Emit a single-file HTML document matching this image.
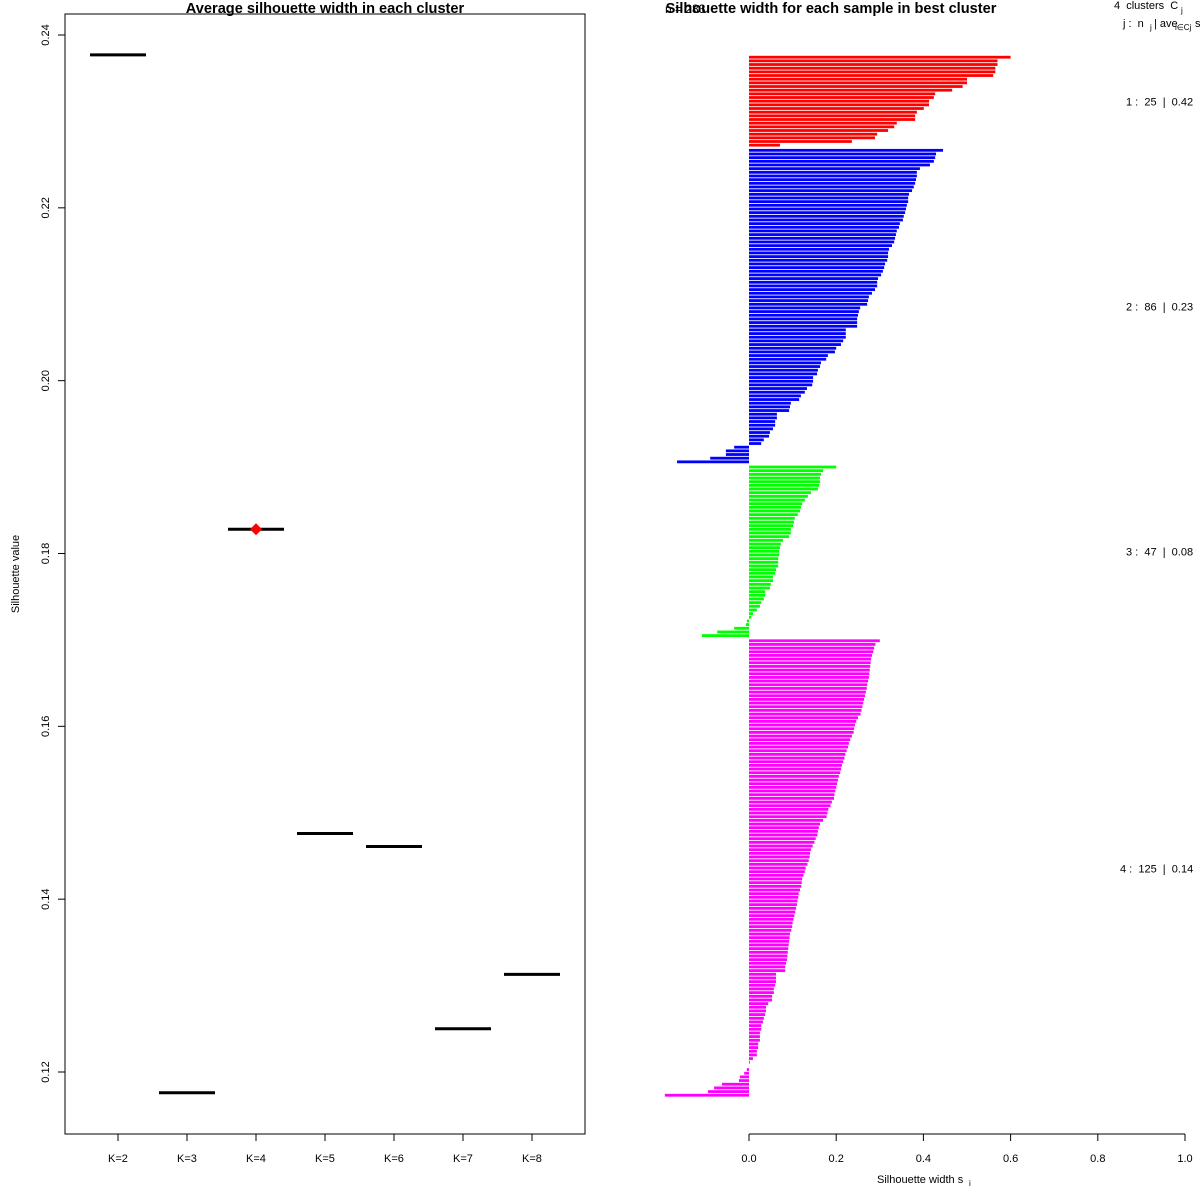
<!DOCTYPE html>
<html><head><meta charset="utf-8"><style>
html,body{margin:0;padding:0;background:#fff;}
svg{display:block;font-family:"Liberation Sans",Arial,sans-serif;}
svg text{white-space:pre;}
</style></head><body>
<svg id="chart" width="1200" height="1200" viewBox="0 0 1200 1200"></svg>
<script>
// ---- Left panel data ----
const kLabels = ["K=2","K=3","K=4","K=5","K=6","K=7","K=8"];
const avgSil = [0.2377,0.1176,0.1828,0.1476,0.1461,0.1250,0.1313];
const bestK = 2; // index of K=4
const yTicks = [0.12,0.14,0.16,0.18,0.20,0.22,0.24];
// ---- Right panel data ----
const cluster1 = [0.60,0.57,0.57,0.565,0.565,0.56,0.50,0.50,0.49,0.466,0.427,0.424,0.413,0.413,0.401,0.385,0.381,0.381,0.339,0.333,0.319,0.294,0.289,0.236,0.071];
const cluster2 = [0.445,0.429,0.427,0.424,0.415,0.392,0.385,0.385,0.383,0.381,0.378,0.374,0.367,0.365,0.365,0.362,0.360,0.358,0.355,0.353,0.346,0.344,0.339,0.337,0.335,0.333,0.328,0.321,0.319,0.319,0.317,0.312,0.310,0.307,0.303,0.296,0.294,0.294,0.289,0.282,0.275,0.273,0.271,0.255,0.252,0.250,0.248,0.248,0.248,0.222,0.222,0.222,0.216,0.211,0.200,0.197,0.181,0.177,0.165,0.163,0.158,0.156,0.147,0.147,0.145,0.133,0.128,0.119,0.115,0.096,0.094,0.092,0.064,0.064,0.060,0.060,0.055,0.048,0.046,0.034,0.028,-0.034,-0.053,-0.053,-0.089,-0.165];
const cluster3 = [0.2,0.17,0.165,0.163,0.163,0.161,0.158,0.142,0.135,0.128,0.122,0.119,0.117,0.112,0.105,0.103,0.101,0.096,0.096,0.092,0.078,0.073,0.071,0.069,0.069,0.067,0.067,0.067,0.062,0.06,0.055,0.055,0.05,0.048,0.037,0.037,0.034,0.028,0.025,0.018,0.009,0.005,-0.005,-0.007,-0.034,-0.073,-0.108];
const cluster4 = [0.300,0.290,0.287,0.285,0.282,0.280,0.279,0.278,0.277,0.276,0.275,0.273,0.271,0.270,0.268,0.266,0.264,0.262,0.260,0.258,0.256,0.250,0.246,0.243,0.241,0.240,0.236,0.232,0.229,0.227,0.224,0.221,0.219,0.216,0.213,0.211,0.209,0.206,0.204,0.202,0.200,0.198,0.196,0.195,0.190,0.187,0.182,0.180,0.178,0.170,0.163,0.160,0.158,0.157,0.153,0.150,0.146,0.142,0.140,0.139,0.137,0.134,0.130,0.128,0.125,0.122,0.121,0.120,0.117,0.114,0.113,0.111,0.110,0.108,0.106,0.104,0.102,0.100,0.099,0.097,0.094,0.093,0.092,0.091,0.090,0.089,0.088,0.087,0.085,0.083,0.083,0.062,0.062,0.062,0.060,0.057,0.057,0.053,0.053,0.044,0.039,0.039,0.037,0.034,0.032,0.028,0.028,0.025,0.025,0.025,0.021,0.021,0.018,0.018,0.009,0.002,0,-0.005,-0.011,-0.021,-0.023,-0.062,-0.080,-0.094,-0.193];
const clusterColors = ["#ff0000","#0000ff","#00ff00","#ff00ff"];
const clusterLabels = ["1 :  25  |  0.42","2 :  86  |  0.23","3 :  47  |  0.08","4 :  125  |  0.14"];
const xTicks = [0,0.2,0.4,0.6,0.8,1.0];
const xTickLabels = ["0.0","0.2","0.4","0.6","0.8","1.0"];

const svg = document.getElementById('chart');
const NS = "http://www.w3.org/2000/svg";
function mk(tag, attrs, text){
  const e = document.createElementNS(NS, tag);
  for (const k in attrs) e.setAttribute(k, attrs[k]);
  if (text !== undefined) e.textContent = text;
  svg.appendChild(e);
  return e;
}

// ---- Left panel ----
const yL = v => 1072 - (v - 0.12) / 0.12 * 1037;
const xL = i => 118 + i * 69;
let e;
e = mk('rect', {x:65, y:14, width:520, height:1120, fill:'none', stroke:'#000', 'stroke-width':1});


e = mk('text', {x:325, y:13, 'text-anchor':'middle', 'font-size':14.6, 'font-weight':'bold'}, 'Average silhouette width in each cluster');


e = mk('text', {x:19, y:574, 'text-anchor':'middle', 'font-size':11, transform:'rotate(-90 19 574)'}, 'Silhouette value');


yTicks.forEach(t => {
  const y = yL(t);
  e = mk('line', {x1:58, x2:65, y1:y, y2:y, stroke:'#000'});
  
  
  e = mk('text', {x:49, y:y, 'text-anchor':'middle', 'font-size':11, transform:`rotate(-90 49 ${y})`}, t.toFixed(2));
  
  
});
kLabels.forEach((k, i) => {
  const x = xL(i);
  e = mk('line', {x1:x, x2:x, y1:1134, y2:1141, stroke:'#000'});
  
  
  e = mk('text', {x:x, y:1162, 'text-anchor':'middle', 'font-size':11}, k);
  
  
  const y = yL(avgSil[i]);
  e = mk('line', {x1:x-28, x2:x+28, y1:y, y2:y, stroke:'#000', 'stroke-width':3});
  
  
});
{
  const x = xL(bestK), y = yL(avgSil[bestK]);
  e = mk('polygon', {points:`${x},${y-6} ${x+6},${y} ${x},${y+6} ${x-6},${y}`, fill:'#ff0000'});
  
  
}

// ---- Right panel ----
const xR = v => 749 + v * 436;
e = mk('text', {x:665, y:13, 'font-size':12}, 'n = 283');


e = mk('text', {x:831, y:13, 'text-anchor':'middle', 'font-size':14.6, 'font-weight':'bold'}, 'Silhouette width for each sample in best cluster');


e = mk('line', {x1:749, x2:1185, y1:1134, y2:1134, stroke:'#000'});


xTicks.forEach((t, i) => {
  const x = xR(t);
  e = mk('line', {x1:x, x2:x, y1:1134, y2:1141, stroke:'#000'});
  
  
  e = mk('text', {x:x, y:1162, 'text-anchor':'middle', 'font-size':11}, xTickLabels[i]);
  
  
});
e = mk('text', {x:877, y:1183, 'font-size':11}, 'Silhouette width s');


e = mk('text', {x:969, y:1186, 'font-size':8}, 'i');



e = mk('text', {x:1114, y:9, 'font-size':11}, '4  clusters  C');


e = mk('text', {x:1181, y:13, 'font-size':8}, 'j');


e = mk('text', {x:1123, y:27, 'font-size':11}, 'j :  n');


e = mk('text', {x:1150, y:30, 'font-size':8}, 'j');


e = mk('text', {x:1154, y:27, 'font-size':11}, '| ave');


e = mk('text', {x:1175, y:30, 'font-size':8}, 'i∈Cj');


e = mk('text', {x:1195, y:27, 'font-size':11}, 's');



const clusters = [cluster1, cluster2, cluster3, cluster4];
const pitch = 3.665, gap = 1.5, top0 = 55.8, bh = 2.8;
let yPos = top0;
clusters.forEach((vals, c) => {
  const startY = yPos;
  vals.forEach(v => {
    const x0 = xR(Math.min(0, v)), x1 = xR(Math.max(0, v));
    e = mk('rect', {x:x0, y:yPos, width:Math.max(x1 - x0, 0.01), height:bh, fill:clusterColors[c]});
    
    
    yPos += pitch;
  });
  const mid = (startY + yPos) / 2;
  e = mk('text', {x:c === 3 ? 1120 : 1126, y:mid + 4, 'font-size':11}, clusterLabels[c]);
  
  
  yPos += gap;
});
</script>
</body></html>
